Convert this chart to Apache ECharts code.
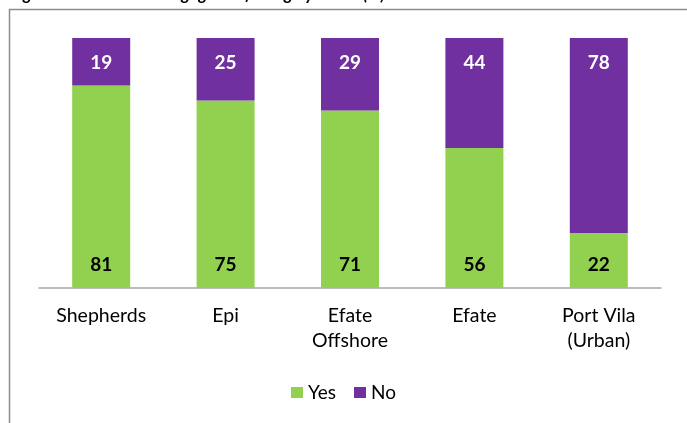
<!DOCTYPE html>
<html>
<head>
<meta charset="utf-8">
<script src="https://cdn.jsdelivr.net/npm/echarts@6/dist/echarts.min.js"></script>
<style>
  html, body { margin: 0; padding: 0; background: #fff; }
  #chart { width: 687px; height: 423px; }
</style>
</head>
<body>
<div id="chart"></div>
<script>
// Households engaged in fishing, by island (percent)
const islands = ['Shepherds', 'Epi', 'Efate\nOffshore', 'Efate', 'Port Vila\n(Urban)'];
const yesShare = [81, 75, 71, 56, 22];
const noShare = [19, 25, 29, 44, 78];

const FONT = 'Lato, "Open Sans", sans-serif';
const GREEN = '#92D050';
const PURPLE = '#7030A0';

const chart = echarts.init(document.getElementById('chart'), null, { renderer: 'canvas' });

chart.setOption({
  animation: false,
  backgroundColor: '#ffffff',
  graphic: [
    {
      type: 'text',
      left: 10,
      top: -14,
      style: {
        text: 'Figure 4: Households engaged in fishing by island (%)',
        font: 'italic bold 17px ' + FONT,
        fill: '#000'
      }
    },
    {
      type: 'polyline',
      shape: { points: [[9.5, 423], [9.5, 9.5], [687, 9.5]] },
      style: { stroke: '#8c8c8c', lineWidth: 1.5, fill: null }
    }
  ],
  grid: { left: 39, right: 26, top: 38, bottom: 135, containLabel: false },
  legend: {
    top: 378,
    left: 'center',
    itemWidth: 12,
    itemHeight: 11,
    itemGap: 18,
    icon: 'rect',
    textStyle: { fontFamily: FONT, fontSize: 19, color: '#000' },
    data: ['Yes', 'No']
  },
  xAxis: {
    type: 'category',
    data: islands,
    axisLine: { lineStyle: { color: '#a6a6a6', width: 1.5 } },
    axisTick: { show: false },
    axisLabel: {
      fontFamily: FONT,
      fontSize: 19.5,
      color: '#000',
      margin: 15,
      lineHeight: 25,
      interval: 0
    }
  },
  yAxis: {
    type: 'value',
    min: 0,
    max: 100,
    show: false,
    splitLine: { show: false }
  },
  series: [
    {
      name: 'Yes',
      type: 'bar',
      stack: 'share',
      barWidth: 58,
      data: yesShare,
      itemStyle: { color: GREEN },
      label: {
        show: true,
        position: 'insideBottom',
        distance: 14,
        fontFamily: FONT,
        fontSize: 19,
        fontWeight: 'bold',
        color: '#000'
      }
    },
    {
      name: 'No',
      type: 'bar',
      stack: 'share',
      barWidth: 58,
      data: noShare,
      itemStyle: { color: PURPLE },
      label: {
        show: true,
        position: 'insideTop',
        distance: 15,
        fontFamily: FONT,
        fontSize: 19,
        fontWeight: 'bold',
        color: '#fff'
      }
    }
  ]
});
</script>
</body>
</html>
